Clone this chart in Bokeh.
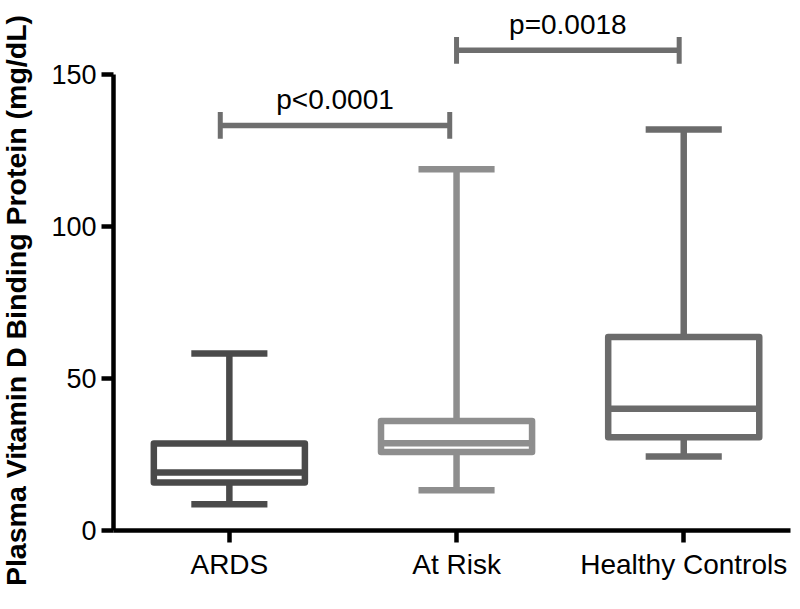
import math
from bokeh.plotting import figure
from bokeh.layouts import row
from bokeh.models import Range1d, FixedTicker, ColumnDataSource
from bokeh.embed import file_html
from bokeh.resources import INLINE
from bokeh.core.properties import value

# ---- data ----
groups = ["ARDS", "At Risk", "Healthy Controls"]
positions = [0, 1, 2]
whisker_low = [8.6, 13.2, 24.3]
q1 = [15.8, 25.8, 30.7]
median = [19.1, 28.7, 40.0]
q3 = [28.6, 36.0, 63.6]
whisker_high = [58.2, 118.8, 131.9]
colors = ["#4a4a4a", "#8e8e8e", "#6b6b6b"]

comp_x0 = [-0.04, 1.0]
comp_x1 = [0.97, 1.98]
comp_y = [133.2, 157.9]
comp_text = ["p<0.0001", "p=0.0018"]

y_ticks = [0, 50, 100, 150]
y_label = "Plasma Vitamin D Binding Protein (mg/dL)"

FONT = "Liberation Sans"
BOX_W = 0.665
CAP_W = 0.335
LW = 6.5
END_H = 4.4
H = 601
LABEL_W = 34

# ---- y-axis title as its own narrow panel ----
lp = figure(width=LABEL_W, height=H, output_backend="svg", toolbar_location=None,
            x_range=Range1d(0, LABEL_W), y_range=Range1d(0, H),
            x_axis_location=None, y_axis_location=None,
            min_border_left=0, min_border_right=0, min_border_top=0, min_border_bottom=0)
lp.frame_align = False
lp.outline_line_color = None
lp.xgrid.visible = False
lp.ygrid.visible = False
lp.text(x=[15], y=[H - 300], text=[y_label], angle=math.pi / 2,
        text_align="center", text_baseline="alphabetic",
        text_font=value(FONT), text_font_size="28.5px", text_font_style="bold",
        text_color="black")

# ---- main chart ----
p = figure(width=792 - LABEL_W, height=H, output_backend="svg", toolbar_location=None,
           x_range=Range1d(-0.51, 2.47), y_range=Range1d(0, 174.3),
           min_border_left=113 - LABEL_W, min_border_right=2, min_border_top=0,
           min_border_bottom=H - 530)
p.frame_align = False
p.outline_line_color = None
p.xgrid.visible = False
p.ygrid.visible = False

src = ColumnDataSource(dict(
    x=positions,
    left=[x - BOX_W / 2 for x in positions],
    right=[x + BOX_W / 2 for x in positions],
    cl=[x - CAP_W / 2 for x in positions],
    cr=[x + CAP_W / 2 for x in positions],
    lo=whisker_low, q1=q1, med=median, q3=q3, hi=whisker_high, color=colors,
))

# whiskers
p.segment(x0="x", y0="q3", x1="x", y1="hi", source=src, line_color="color", line_width=LW)
p.segment(x0="x", y0="q1", x1="x", y1="lo", source=src, line_color="color", line_width=LW)
# caps
p.segment(x0="cl", y0="hi", x1="cr", y1="hi", source=src, line_color="color", line_width=LW)
p.segment(x0="cl", y0="lo", x1="cr", y1="lo", source=src, line_color="color", line_width=LW)
# boxes
p.quad(left="left", right="right", bottom="q1", top="q3", source=src,
       fill_color="white", line_color="color", line_width=LW, line_join="round")
# medians
p.segment(x0="left", y0="med", x1="right", y1="med", source=src, line_color="color", line_width=LW)

# significance bars
sig_color = "#6e6e6e"
csrc = ColumnDataSource(dict(x0=comp_x0, x1=comp_x1, y=comp_y,
                             ylo=[y - END_H for y in comp_y],
                             yhi=[y + END_H for y in comp_y],
                             xm=[(a + b) / 2 for a, b in zip(comp_x0, comp_x1)],
                             t=comp_text))
p.segment(x0="x0", y0="y", x1="x1", y1="y", source=csrc, line_color=sig_color, line_width=5.5)
p.segment(x0="x0", y0="ylo", x1="x0", y1="yhi", source=csrc, line_color=sig_color, line_width=5)
p.segment(x0="x1", y0="ylo", x1="x1", y1="yhi", source=csrc, line_color=sig_color, line_width=5)
p.text(x="xm", y="y", text="t", source=csrc, text_align="center", text_baseline="alphabetic",
       y_offset=-26, text_font=value(FONT), text_font_size="28px", text_color="black")

# axes
for ax in (p.xaxis[0], p.yaxis[0]):
    ax.axis_line_width = 4.5
    ax.axis_line_color = "black"
    ax.major_tick_line_width = 4.5
    ax.major_tick_line_color = "black"
    ax.major_tick_in = 0
    ax.major_tick_out = 12
    ax.minor_tick_line_color = None
    ax.major_label_text_font = FONT
    ax.major_label_text_color = "black"

p.yaxis.ticker = FixedTicker(ticks=y_ticks)
p.yaxis.bounds = (0, 150)
p.yaxis.major_label_text_font_size = "27px"
p.yaxis.major_label_standoff = 5

p.xaxis.ticker = FixedTicker(ticks=positions)
p.xaxis.major_label_overrides = {pos: g for pos, g in zip(positions, groups)}
p.xaxis.major_label_text_font_size = "28px"
p.xaxis.major_label_standoff = 6

layout = row(lp, p, spacing=0)
open("out.html", "w").write(file_html(layout, INLINE))
